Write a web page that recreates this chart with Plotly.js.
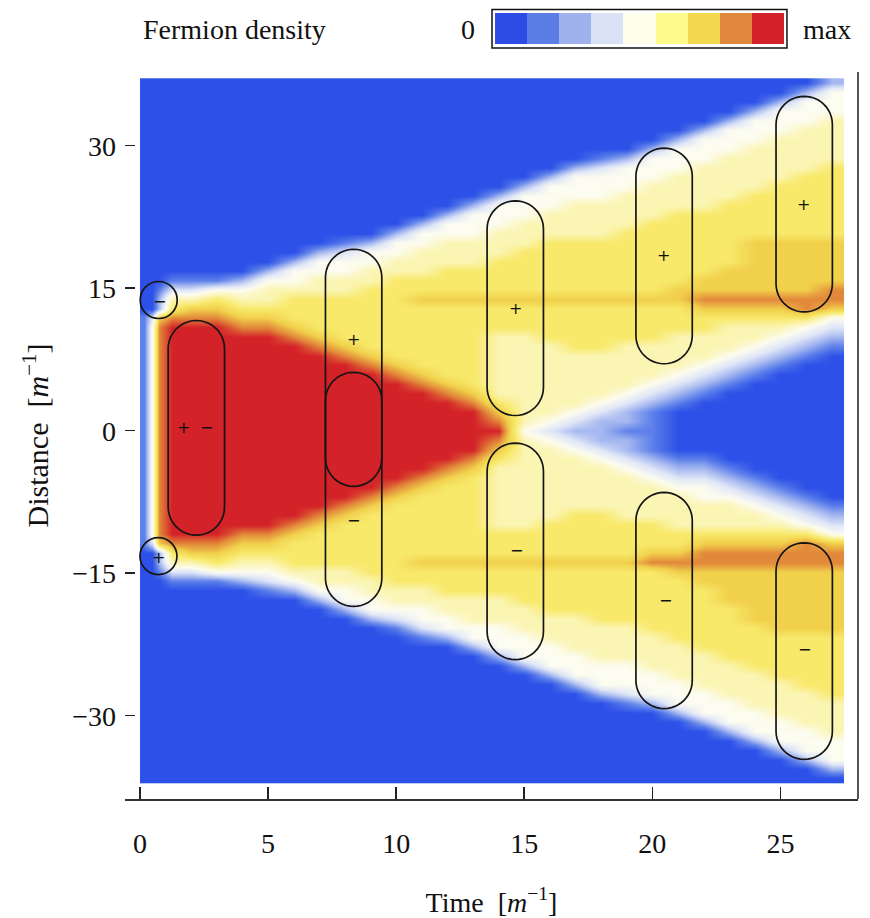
<!DOCTYPE html>
<html>
<head>
<meta charset="utf-8">
<script src="https://cdn.plot.ly/plotly-3.0.1.min.js"></script>
<style>html,body{margin:0;padding:0;background:#fff;}</style>
</head>
<body>
<div id="chart" style="width:870px;height:918px;"></div>
<script>
// ---------------- data ----------------
// time samples (columns of the density map), in m^-1
const timeSamples = [0.15, 0.45, 0.75, 1.25, 2, 3, 4, 5, 6, 7, 8, 9, 10, 11, 12, 13, 14,
                     15, 16, 17, 18, 19, 20, 21, 22, 23, 24, 25, 26, 27];

// density level (0 = blue/zero ... 9 = red/max) at each time sample, read row by row
// from distance +37 (top) down to -37 (bottom), one row per unit (75 rows).
// run-length notation: "v*n" = level v repeated n times
const densityProfiles = [
  "0*25 1*25 0*25",                                                                 // t=0.15
  "0*25 3 4*23 3 0*25",                                                             // t=0.45
  "0*22 1 2 2 7 8*23 7 2 2 1 0*22",                                                 // t=0.75
  "0*21 1 3 5 6 8 9*23 8 6 5 3 1 0*21",                                             // t=1.25
  "0*21 1 3 5 7 8 9*23 8 7 5 3 1 0*21",                                             // t=2
  "0*21 1 4 6 7 8 9*23 8 7 6 4 1 0*21",                                             // t=3
  "0*21 2 4 5 6 7 8 9*21 8 7 6 5 4 2 0*21",                                         // t=4
  "0*20 2 4 5 5 6 7 8 9*21 8 7 6 5 4 3 1 0*20",                                     // t=5
  "0*19 2 4*2 5 6*3 7 8 9*19 8 7 6*3 5 4 2 0*20",                                   // t=6
  "0*18 2 4*2 5*2 6*4 7 8 9*17 8 7 6*4 5*2 4 2 0*19",                               // t=7
  "0*17 1 3 4*2 5*2 6*5 7 8 9*15 8 7 6*5 5*2 4*2 2 0*18",                           // t=8
  "0*17 2 4*2 5*2 6*7 7 8 9*13 8 7 6*7 5*2 4*2 2 0*17",                             // t=9
  "0*16 2 4*2 5*2 6*9 7 8 9*11 8 7 6*9 5*2 4 3 1 0*16",                             // t=10
  "0*15 2 4*2 5*3 6*2 7 6*7 7 8 9*9 8 7 6*7 7 6*2 5*2 4*2 3 1 0*15",                // t=11
  "0*14 2 4*2 5*3 6*3 7 6*8 7 8 9*7 8 7 6*8 7 6*3 5*2 4*2 2 0*15",                  // t=12
  "0*13 2 4*3 5*3 6*3 7 6*9 7 8 9*5 8 7 6*9 7 6*3 5*3 4*2 2 0*14",                  // t=13
  "0*12 2 4*3 5*3 6*4 7 6*3 5*7 6 7 8 9 8 7 6 5*7 6*3 7 6*3 5*3 4*3 2 0*13",        // t=14
  "0*11 2 4*3 5*3 6*5 7 6*3 5*10 4 5*10 6*3 7 6*4 5*3 4*3 2 0*12",                  // t=15
  "0*10 2 4*3 5*3 6*6 7 6*4 5*8 4 3 4 5*8 6*4 7 6*5 5*3 4*3 2 0*11",                // t=16
  "0*9 2 4*3 5*4 6*6 7 6*5 5*6 4 3 2 3 4 5*6 6*5 7 6*5 5*4 4*3 2 0*10",             // t=17
  "0*8 1 3 4*3 5*4 6*6 7 6*5 5*5 4 3 2 2 2 3 4 5*5 6*5 7 6*6 5*4 4*3 2 0*9",        // t=18
  "0*8 2 4*3 5*4 6*7 7 6*4 5*5 4 3 2 2 1 2 2 3 4 5*5 6*4 7 6*6 5*4 4*3 3 1 0*8",    // t=19
  "0*7 2 4*3 5*4 6*8 7 6*4 5*4 4 3 2 1 1 1 1 1 2 3 4 5*4 6*3 7 8 6*7 5*4 4*3 2 0*8",// t=20
  "0*6 2 4*3 5*4 6*8 7*2 6*3 5*4 4 3 2 1 0*5 1 2 3 4 5*4 6*2 7 8 7 6*7 5*4 4*3 2 0*7", // t=21
  "0*5 2 4*3 5*5 6*7 7*2 8 7 6*2 5*3 4 3 2 1 0*6 1 2 3 4*2 5*3 6 7 8*2 7*2 6*7 5*4 4*3 2 0*6", // t=22
  "0*4 2 4*3 5*5 6*7 7*3 8 7 6 5*3 4 3 2 1 0*8 1 2 3 4 5*3 6 7 8*2 7*4 6*6 5*4 4*3 2 0*5",     // t=23
  "0*3 2 4*3 5*5 6*5 7*6 8 7 6 5*2 4 3 2 1 0*10 1 2 3 4 5*2 6 7 8*2 7*6 6*5 5*4 4*3 2 0*4",    // t=24
  "0*2 2 4*3 5*5 6*6 7*6 8 7 6 5 4 3 2 1 0*12 1 2 3 4 5 6 7 8*2 7*7 6*5 5*4 4*3 2 0*3",        // t=25
  "0 2 4*3 5*5 6*7 7*6 8*2 6 4 3 2 1 0*14 1 2 3 4 6 8*3 7*7 6*6 5*4 4*3 2 0*2",                // t=26
  "2 4*3 5*5 6*8 7*5 8*2 7 4 3 2 1 0*16 1 2 3 4 7 8*2 7*7 6*7 5*4 4*3 2 0"                     // t=27
];

// colours of the density levels 0..9
const levelColors = ["#2d50e8", "#5d80ea", "#a6b8f0", "#dfe6f7", "#fcfcf0",
                     "#fbf5b4", "#f8e96a", "#f1d04c", "#e2883a", "#d42229"];

// colour key at the top
const legendColors = ["#2d4ce6", "#5a7de6", "#9fb2ee", "#dae2f6", "#fdfdea",
                      "#fdfa8c", "#f3d74c", "#e0893c", "#d42129"];
const legendLevels = [0, 1, 2, 3, 4, 5, 6, 7, 8];

// pair regions (stadium outlines): centre time, top and bottom distance
const capsuleTime   = [2.20, 8.34, 8.34, 14.65, 14.65, 20.46, 20.46, 25.93, 25.93];
const capsuleTop    = [11.6, 19.1, 6.15, 24.2, -1.3, 29.75, -6.5, 35.2, -11.8];
const capsuleBottom = [-11.0, -18.5, -5.85, 1.6, -24.1, 7.05, -29.25, 12.5, -34.6];

// single-charge circles
const circleTime = [0.73, 0.72];
const circleDist = [13.76, -13.2];

// charge signs
const signTime = [0.76, 0.72, 1.69, 2.60, 8.32, 8.35, 14.65, 14.69, 20.44, 20.50, 25.91, 25.96];
const signDist = [13.6, -13.3, 0.3, 0.3, 9.6, -9.4, 12.9, -12.6, 18.4, -17.9, 23.8, -23.05];
const signText = ["−", "+", "+", "−", "+", "−", "+", "−", "+", "−", "+", "−"];

// ---------------- build ----------------
function decodeProfile(s) {
  const out = [];
  s.trim().split(/\s+/).forEach(tok => {
    const p = tok.split("*");
    const v = Number(p[0]), n = p.length > 1 ? Number(p[1]) : 1;
    for (let i = 0; i < n; i++) out.push(v);
  });
  return out;
}
const profiles = densityProfiles.map(decodeProfile);
const nRows = 75;
const badCols = [];
profiles.forEach((p, i) => {
  if (p.length !== nRows) badCols.push(timeSamples[i] + ":" + p.length);
  while (p.length < nRows) p.push(0);
  p.length = nRows;
});
const z = [];
for (let r = 0; r < nRows; r++) {
  const src = nRows - 1 - r;            // bottom row first (ascending distance)
  z.push(profiles.map(p => p[src]));
}

const mainScale = levelColors.map((c, i) => [i / (levelColors.length - 1), c]);
const legendScale = [];
legendColors.forEach((c, i) => {
  legendScale.push([i / legendColors.length, c]);
  legendScale.push([(i + 1) / legendColors.length, c]);
});

const rowStep = 0.9893;   // picture rows span -37.1 .. 37.1
const heat = {
  type: "heatmap",
  x: timeSamples,
  y0: -37 * rowStep, dy: rowStep,
  z: z,
  zmin: 0, zmax: 9,
  colorscale: mainScale,
  zsmooth: "best",
  showscale: false,
  hoverinfo: "skip"
};

const key = {
  type: "heatmap",
  xaxis: "x2", yaxis: "y2",
  x: legendLevels, y: [0],
  z: [legendLevels],
  zmin: -0.5, zmax: legendLevels.length - 0.5,
  colorscale: legendScale,
  showscale: false,
  hoverinfo: "skip"
};

// geometry helpers (pixels per unit of the two axes)
const pxPerTime = 25.61, pxPerDist = 9.5;
const capsuleHalfWidth = 1.1;
const capsuleRy = capsuleHalfWidth * pxPerTime / pxPerDist;
function capsulePath(tc, top, bottom) {
  const rx = capsuleHalfWidth, ry = capsuleRy;
  const cTop = top - ry, cBot = bottom + ry;
  const pts = [];
  const n = 24;
  for (let i = 0; i <= n; i++) {
    const a = Math.PI - Math.PI * i / n;
    pts.push([tc + rx * Math.cos(a), cTop + ry * Math.sin(a)]);
  }
  for (let i = 0; i <= n; i++) {
    const a = -Math.PI * i / n;
    pts.push([tc + rx * Math.cos(a), cBot + ry * Math.sin(a)]);
  }
  return "M" + pts.map(p => p[0].toFixed(4) + "," + p[1].toFixed(4)).join(" L") + " Z";
}

const shapes = [];
capsuleTime.forEach((t, i) => {
  shapes.push({
    type: "path", xref: "x", yref: "y",
    path: capsulePath(t, capsuleTop[i], capsuleBottom[i]),
    line: { color: "#151515", width: 1.7 }
  });
});
const circR = 18.5;
circleTime.forEach((t, i) => {
  shapes.push({
    type: "circle", xref: "x", yref: "y",
    x0: t - circR / pxPerTime, x1: t + circR / pxPerTime,
    y0: circleDist[i] - circR / pxPerDist, y1: circleDist[i] + circR / pxPerDist,
    line: { color: "#151515", width: 1.7 }
  });
});
shapes.push({ type: "line", xref: "paper", yref: "paper", x0: 1, x1: 1, y0: 0, y1: 0.9214,
              line: { color: "#555", width: 2 } });
shapes.push({ type: "rect", xref: "paper", yref: "paper", x0: 0.5007, x1: 0.9031, y0: 0.9518, y1: 1.0006,
              line: { color: "#111", width: 1.5 } });

const serif = "Liberation Serif, Times New Roman, serif";
const annotations = signText.map((s, i) => ({
  x: signTime[i], y: signDist[i], xref: "x", yref: "y",
  text: s, showarrow: false, xanchor: "center", yanchor: "middle",
  font: { family: "DejaVu Sans, sans-serif", size: 16, color: "#111" }
}));
annotations.push({ x: 0.150, y: 0.9747, xref: "paper", yref: "paper", text: "Fermion density",
  showarrow: false, xanchor: "center", yanchor: "middle", font: { family: serif, size: 28, color: "#111" } });
annotations.push({ x: 0.468, y: 0.9747, xref: "paper", yref: "paper", text: "0",
  showarrow: false, xanchor: "center", yanchor: "middle", font: { family: serif, size: 28, color: "#111" } });
annotations.push({ x: 0.9577, y: 0.9747, xref: "paper", yref: "paper", text: "max",
  showarrow: false, xanchor: "center", yanchor: "middle", font: { family: serif, size: 28, color: "#111" } });
if (badCols.length) {
  annotations.push({ x: 0.5, y: 0.5, xref: "paper", yref: "paper", text: "BAD " + badCols.join(" "),
    showarrow: false, font: { size: 14, color: "#000" }, bgcolor: "#fff" });
}

const layout = {
  width: 870, height: 918,
  margin: { l: 125, r: 12, t: 10, b: 119 },
  paper_bgcolor: "#fff", plot_bgcolor: "#fff",
  showlegend: false,
  font: { family: serif, color: "#111" },
  xaxis: {
    range: [-0.586, 28.03], domain: [0, 1],
    tick0: 0, dtick: 5, ticks: "inside", ticklen: 12, tickwidth: 1.5, tickcolor: "#222",
    showline: true, linecolor: "#333", linewidth: 2,
    showgrid: false, zeroline: false,
    tickfont: { family: serif, size: 28, color: "#111" },
    ticklabelstandoff: 18,
    title: { text: "Time  [<i>m</i><sup>−1</sup>]", font: { family: serif, size: 28, color: "#111" }, standoff: 37 }
  },
  yaxis: {
    range: [-38.77, 37.76], domain: [0, 0.9214],
    tick0: 0, dtick: 15, ticks: "inside", ticklen: 10, tickwidth: 1.5, tickcolor: "#222",
    showline: false, showgrid: false, zeroline: false,
    tickfont: { family: serif, size: 28, color: "#111" },
    ticklabelstandoff: 8,
    title: { text: "Distance  [<i>m</i><sup>−1</sup>]", font: { family: serif, size: 30, color: "#111" }, standoff: 14 }
  },
  xaxis2: { domain: [0.5048, 0.8990], range: [-0.5, 8.5], anchor: "y2", visible: false, fixedrange: true },
  yaxis2: { domain: [0.9569, 0.9962], range: [-0.5, 0.5], anchor: "x2", visible: false, fixedrange: true },
  shapes: shapes,
  annotations: annotations
};

Plotly.newPlot("chart", [heat, key], layout, { displayModeBar: false, staticPlot: true });
</script>
</body>
</html>
